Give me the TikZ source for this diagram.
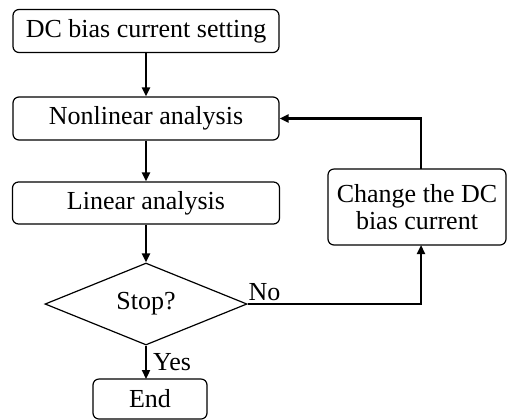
\documentclass[tikz,border=0pt]{standalone}
\usepackage{fontspec}
\setmainfont{Liberation Serif}
\usetikzlibrary{shapes.geometric,arrows.meta}
\begin{document}
\begin{tikzpicture}[x=0.5pt,y=-0.5pt,
  font=\fontsize{13pt}{14.5pt}\selectfont,
  box/.style={draw,rounded corners=3pt,line width=0.6pt,inner sep=0pt,align=center},
  dec/.style={draw,diamond,line width=0.6pt,inner sep=0pt,minimum width=101pt,minimum height=35pt},
  conn/.style={line width=1.1pt,-{Triangle[length=4.5pt,width=4pt]}},
  lbl/.style={inner sep=1pt}]
\useasboundingbox (0,0) rectangle (507,419);
\node[box,minimum width=133pt,minimum height=21.5pt] (b1) at (146,31) {DC bias current setting};
\node[box,minimum width=133pt,minimum height=21.5pt] (b2) at (146,118.5) {Nonlinear analysis};
\node[box,minimum width=133.5pt,minimum height=21pt] (b3) at (146,203) {Linear analysis};
\node[dec] (d) at (146,304) {Stop?};
\node[box,minimum width=89pt,minimum height=38pt] (b4) at (417,207) {Change the DC\\[-1pt]bias current};
\node[box,minimum width=57pt,minimum height=20pt] (e) at (150,399) {End};
\coordinate (t4) at (421,169);
\coordinate (s4) at (421,245);
\coordinate (ee) at (146,379);
\draw[conn] (b1.south) -- (b2.north);
\draw[conn] (b2.south) -- (b3.north);
\draw[conn] (b3.south) -- (d.north);
\draw[conn] (d.south) -- node[lbl,right,xshift=2pt] {Yes} (ee);
\draw[conn] (d.east) -- node[lbl,pos=0,above right,xshift=-1pt] {No} (s4 |- d.east) -- (s4);
\draw[conn] (t4) |- (b2.east);
\end{tikzpicture}
\end{document}
